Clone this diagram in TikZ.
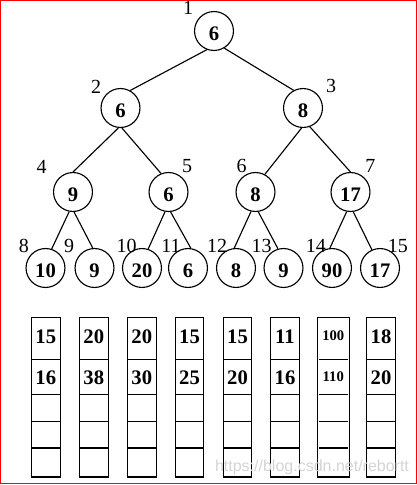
\documentclass[tikz,border=0pt]{standalone}
\usepackage{fontspec}
\setmainfont{Liberation Serif}
\newfontfamily\wmfont{Liberation Sans}
\definecolor{wmgray}{RGB}{212,212,212}
\begin{document}
\begin{tikzpicture}[x=0.75pt,y=-0.75pt,
  vnode/.style={circle,draw,line width=0.85pt,minimum size=29.2pt,inner sep=0pt,
    font=\fontsize{15.5}{18}\bfseries\selectfont,text height=14pt,text depth=0pt},
  idx/.style={inner sep=0pt,font=\fontsize{15}{18}\selectfont},
  treeline/.style={line width=0.85pt},
  cell/.style={draw,line width=0.85pt},
  val/.style={inner sep=0pt,font=\fontsize{15.5}{18}\bfseries\selectfont},
  smallval/.style={inner sep=0pt,font=\fontsize{11}{13}\bfseries\selectfont}]
\useasboundingbox (0,0) rectangle (417,485);
\draw[red,line width=1pt] (0.7,0.7) rectangle (416.3,483.6);

% tree nodes
\node[vnode] (n1) at (214,31) {6};
\node[vnode] (n2) at (120.5,108) {6};
\node[vnode] (n3) at (303,108) {8};
\node[vnode] (n4) at (73,192) {9};
\node[vnode] (n5) at (168.5,192) {6};
\node[vnode] (n6) at (255.5,192) {8};
\node[vnode] (n7) at (350.5,192) {17};
\node[vnode] (n8) at (45.5,268) {10};
\node[vnode] (n9) at (94.5,268) {9};
\node[vnode] (n10) at (142,268) {20};
\node[vnode] (n11) at (188,268) {6};
\node[vnode] (n12) at (236,268) {8};
\node[vnode] (n13) at (283.5,268) {9};
\node[vnode] (n14) at (332,268) {90};
\node[vnode] (n15) at (380,268) {17};

% edges
\draw[treeline] (n1.-111) -- (n2.61);
\draw[treeline] (n1.-59) -- (n3.118);
\draw[treeline] (n2.-96) -- (n4.90);
\draw[treeline] (n2.-86) -- (n5.112);
\draw[treeline] (n3.-94) -- (n6.62);
\draw[treeline] (n3.-70) -- (n7.90);
\draw[treeline] (n4.-101) -- (n8.72);
\draw[treeline] (n4.-87) -- (n9.95);
\draw[treeline] (n5.-100) -- (n10.72);
\draw[treeline] (n5.-84) -- (n11.82);
\draw[treeline] (n6.-103) -- (n12.95);
\draw[treeline] (n6.-82) -- (n13.106);
\draw[treeline] (n7.-101) -- (n14.96);
\draw[treeline] (n7.-82) -- (n15.114);

% index labels
\node[idx] (i1) at (188,8) {1};
\node[idx] (i2) at (96,87) {2};
\node[idx] (i3) at (331,86) {3};
\node[idx] (i4) at (41.7,166.5) {4};
\node[idx] (i5) at (187,166) {5};
\node[idx] (i6) at (241.7,166) {6};
\node[idx] (i7) at (370.3,166) {7};
\node[idx] (i8) at (23.8,246.3) {8};
\node[idx] (i9) at (69,246.3) {9};
\node[idx] (i10) at (126.7,246.3) {10};
\node[idx] (i11) at (171,246.3) {11};
\node[idx] (i12) at (217,246.3) {12};
\node[idx] (i13) at (261.5,246.3) {13};
\node[idx] (i14) at (315.8,246.3) {14};
\node[idx] (i15) at (397.8,246.3) {15};

% boxes
\foreach \xl/\w/\ta/\tb [count=\i] in {31.3/29/15/16, 79.3/29/20/38, 127.3/29/20/30, 175.3/28.4/15/25, 223.3/28.4/15/20, 270.7/28.6/11/16, 366.7/28.6/18/20}{
  \draw[cell] (\xl,317.3) rectangle ++(\w,159.7);
  \foreach \yy in {359.3,394.3,421.3,448}{
    \draw[cell] (\xl,\yy) -- ++(\w,0);
  }
  \node[val] (a\i) at (\xl+\w/2,336.7) {\ta};
  \node[val] (b\i) at (\xl+\w/2,377.3) {\tb};
}
% special column
\draw[cell] (317.3,317.3) rectangle (349.3,477);
\foreach \yy in {359.3,394.3,421.3,448}{
  \draw[cell] (319.3,\yy) -- (347.7,\yy);
}
\node[smallval] (a8) at (333.3,335.7) {100};
\node[smallval] (b8) at (333.3,377) {110};

% watermark
\node[inner sep=0pt,text=wmgray,font=\wmfont\fontsize{12}{14}\selectfont] (wm) at (312,467.5) {https://blog.csdn.net/rebortt};
\end{tikzpicture}
\end{document}
